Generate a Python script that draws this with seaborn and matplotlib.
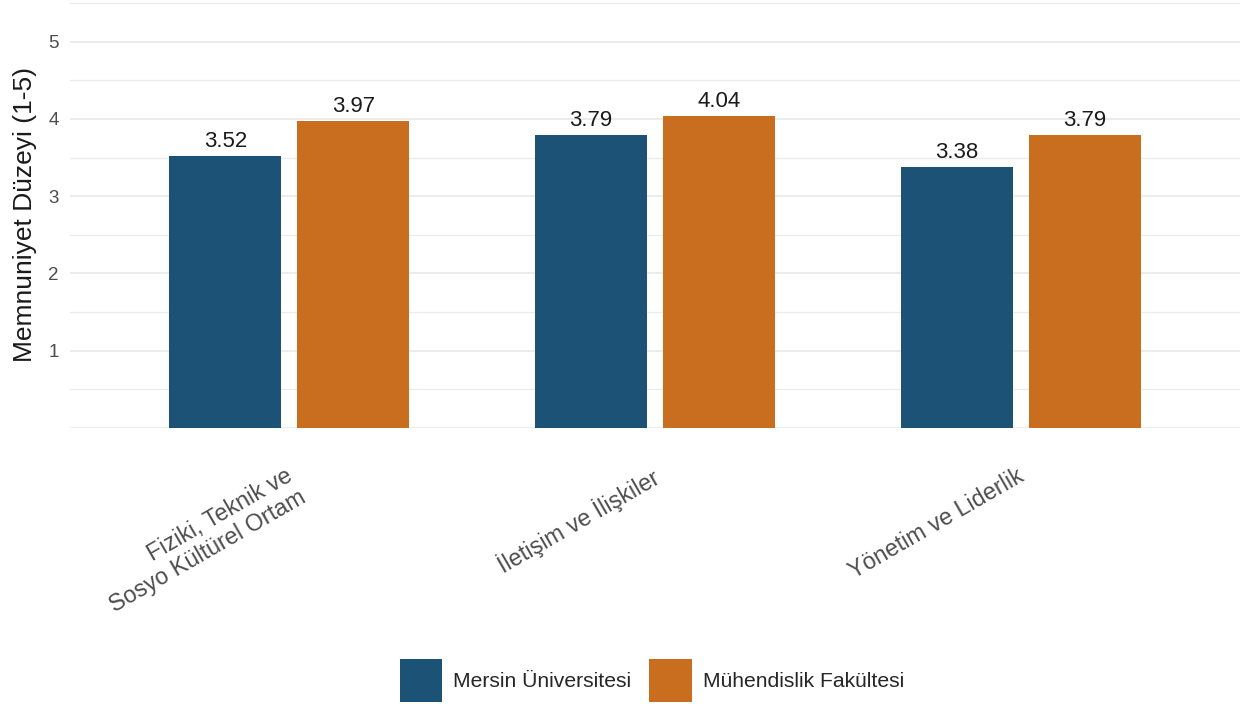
import matplotlib
matplotlib.use("Agg")
import matplotlib.pyplot as plt
import matplotlib.transforms as mtransforms
import seaborn as sns
import pandas as pd
import numpy as np

categories = ["Fiziki, Teknik ve\nSosyo Kültürel Ortam", "İletişim ve İlişkiler", "Yönetim ve Liderlik"]
series_names = ["Mersin Üniversitesi", "Mühendislik Fakültesi"]
mersin_values = [3.52, 3.79, 3.38]
muhendislik_values = [3.97, 4.04, 3.79]
y_ticks = [1, 2, 3, 4, 5]
y_label = "Memnuniyet Düzeyi (1-5)"
colors = {"Mersin Üniversitesi": "#1B5276", "Mühendislik Fakültesi": "#C96E1F"}

df = pd.DataFrame({
    "kategori": categories * 2,
    "grup": [series_names[0]] * 3 + [series_names[1]] * 3,
    "deger": mersin_values + muhendislik_values,
})

sns.set_theme(style="white")
plt.rcParams["font.family"] = ["Liberation Sans", "DejaVu Sans"]

W, H = 1241, 704
fig = plt.figure(figsize=(W / 100, H / 100), dpi=100)
left, right, top, bottom = 70, 1240, 0, 428
ax = fig.add_axes([left / W, 1 - bottom / H, (right - left) / W, (bottom - top) / H])

sns.barplot(data=df, x="kategori", y="deger", hue="grup", palette=colors,
            width=0.7, gap=0.125, saturation=1, ax=ax, legend=True, zorder=3,
            linewidth=0)

ax.set_xlim(-0.6, 2.6)
ax.set_ylim(0, 5.54)
ax.set_yticks(y_ticks)
ax.set_yticks(np.arange(0.5, 5.6, 1.0), minor=True)
ax.grid(axis="y", which="major", color="#EBEBEB", linewidth=1.3, zorder=0)
ax.grid(axis="y", which="minor", color="#EBEBEB", linewidth=0.9, zorder=0)
ax.axhline(0, color="#EBEBEB", linewidth=1.3, zorder=0)
ax.grid(axis="x", visible=False)
for s in ax.spines.values():
    s.set_visible(False)
ax.tick_params(axis="both", which="both", length=0)
ax.tick_params(axis="y", labelsize=13.5, labelcolor="#4D4D4D", pad=8)
ax.tick_params(axis="x", labelsize=16.8, labelcolor="#4D4D4D", pad=6)
offset = mtransforms.ScaledTranslation(-4 / 100, -28 / 100, fig.dpi_scale_trans)
for lbl in ax.get_xticklabels():
    lbl.set_rotation(30)
    lbl.set_ha("right")
    lbl.set_va("top")
    lbl.set_rotation_mode("anchor")
    lbl.set_multialignment("right")
    lbl.set_linespacing(1.12)
    lbl.set_transform(lbl.get_transform() + offset)
ax.set_xlabel("")
ax.set_ylabel(y_label, fontsize=19, color="#1A1A1A", labelpad=8)

for cont in ax.containers:
    ax.bar_label(cont, fmt="%.2f", padding=3, fontsize=16, color="#1A1A1A")

handles, labels = ax.get_legend_handles_labels()
ax.get_legend().remove()
fig.legend(handles, labels, loc="center", bbox_to_anchor=(652 / W, 1 - 680.5 / H),
           ncol=2, frameon=False, fontsize=15.2, handlelength=2.0, handleheight=2.8,
           handletextpad=0.55, columnspacing=0.85)

fig.savefig("out.png", dpi=100, facecolor="white")
